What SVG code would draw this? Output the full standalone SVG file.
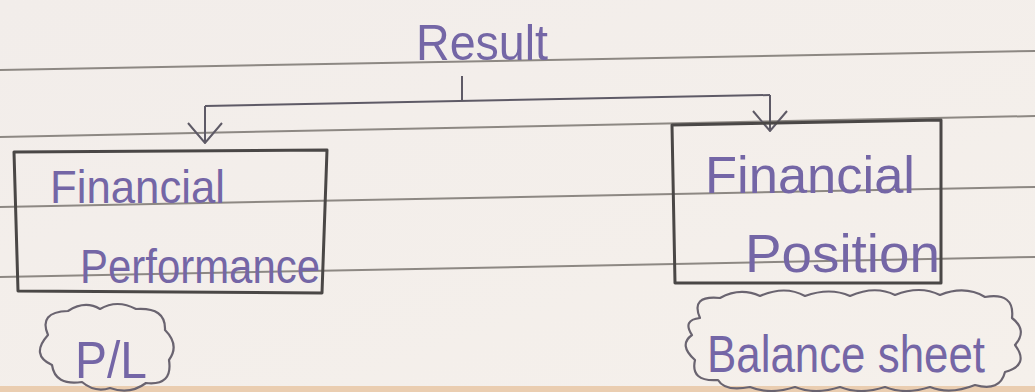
<svg xmlns="http://www.w3.org/2000/svg" width="1035" height="392" viewBox="0 0 1035 392">
<defs>
<style>
.rule{stroke:#8d8883;stroke-width:2;fill:none}
.box{fill:none;stroke:#4a4746;stroke-width:3;stroke-linejoin:round}
.cloud{fill:none;stroke:#6a6470;stroke-width:2.2;stroke-linejoin:round}
.conn{fill:none;stroke:#5e5a66;stroke-width:2}
.hw{font-family:"Liberation Sans",sans-serif;fill:#7466a6;font-weight:normal}
</style>
<linearGradient id="paper" x1="0" y1="0" x2="1" y2="1">
<stop offset="0" stop-color="#f2edea"/>
<stop offset="1" stop-color="#f5f0eb"/>
</linearGradient>
<marker id="vee" markerUnits="userSpaceOnUse" viewBox="0 0 22 36" markerWidth="22" markerHeight="36" refX="21" refY="18" orient="auto">
<path d="M1,1 L21,18 L1,35" fill="none" stroke="#5e5a66" stroke-width="2"/>
</marker>
</defs>
<rect width="1035" height="392" fill="url(#paper)"/>
<rect y="386" width="1035" height="6" fill="#eacdb0"/>
<g id="rules">
<path class="rule" d="M0 70 L1035 51"/>
<path class="rule" d="M0 137 L1035 116"/>
<path class="rule" d="M0 207 L1035 187"/>
<path class="rule" d="M0 277 L1035 257"/>
</g>
<g id="connectors">
<path class="conn" d="M462 76 V101"/>
<path class="conn" d="M205 106 L770 95"/>
<path class="conn" d="M205 106 V143" marker-end="url(#vee)"/>
<path class="conn" d="M770 95 V131" marker-end="url(#vee)"/>
</g>
<g id="result">
<text class="hw" x="416" y="60" font-size="50" textLength="132" lengthAdjust="spacingAndGlyphs">Result</text>
</g>
<g id="performance">
<path class="box" d="M14 152 L327 150 L322 293 L18 291 Z"/>
<text class="hw" x="50" y="203" font-size="46" textLength="175" lengthAdjust="spacingAndGlyphs">Financial</text>
<text class="hw" x="80" y="283" font-size="48" textLength="240" lengthAdjust="spacingAndGlyphs">Performance</text>
</g>
<g id="position">
<path class="box" d="M672 125 L941 120 L941 283 L675 283 Z"/>
<text class="hw" x="705" y="193" font-size="52" textLength="210" lengthAdjust="spacingAndGlyphs">Financial</text>
<text class="hw" x="745" y="272" font-size="54" textLength="195" lengthAdjust="spacingAndGlyphs">Position</text>
</g>
<g id="pl">
<path class="cloud" d="M48 335 Q38 312 68 311 Q85 300 100 309 Q117 299 136 309 Q166 307 165 330 Q180 345 169 360 Q173 386 146 383 Q130 395 110 388 Q95 393 82 382 Q55 386 52 365 Q30 355 48 335 Z"/>
<text class="hw" x="75" y="378" font-size="52" textLength="72" lengthAdjust="spacingAndGlyphs">P/L</text>
</g>
<g id="balance">
<path class="cloud" d="M700 318 Q690 295 720 298 Q740 287 760 296 Q785 285 805 296 Q830 287 850 296 Q875 285 895 295 Q920 285 940 295 Q965 285 985 297 Q1015 292 1012 318 Q1028 330 1015 345 Q1030 365 1005 372 Q1000 392 975 385 Q950 395 930 387 Q905 395 885 387 Q860 395 840 387 Q815 395 795 387 Q770 395 750 387 Q725 392 718 380 Q690 382 695 360 Q678 345 692 335 Q682 320 700 318 Z"/>
<text class="hw" x="707" y="372" font-size="52" textLength="278" lengthAdjust="spacingAndGlyphs">Balance sheet</text>
</g>
</svg>
